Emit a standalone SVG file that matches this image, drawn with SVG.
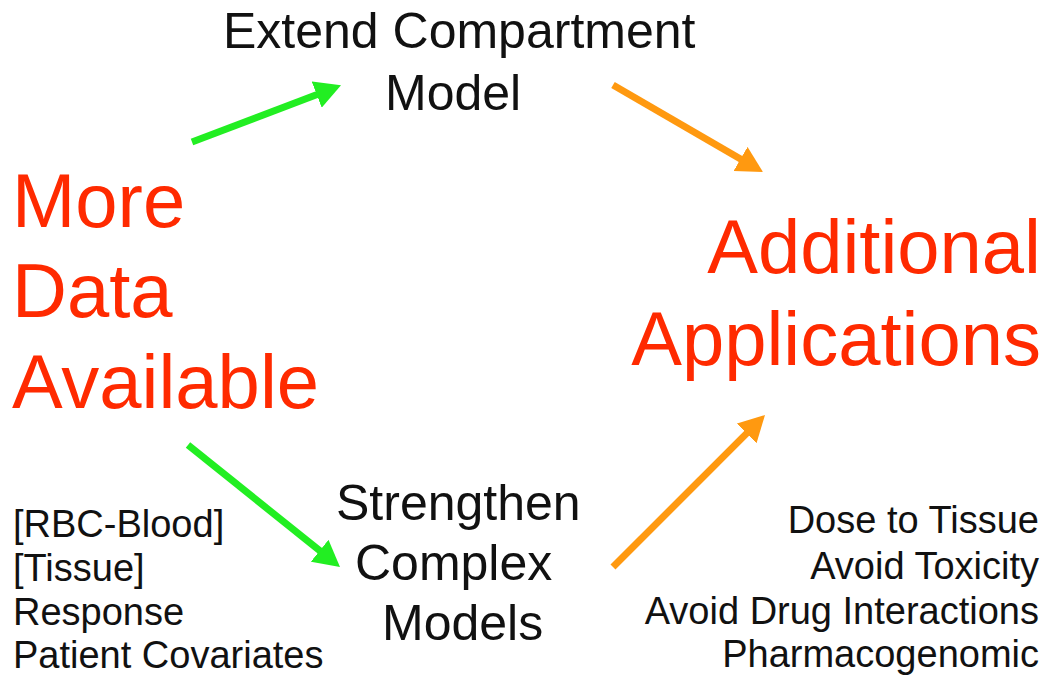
<svg xmlns="http://www.w3.org/2000/svg" width="1049" height="682" viewBox="0 0 1049 682">
<style>
text{font-family:"Liberation Sans",Arial,Helvetica,sans-serif}
.big{font-size:76px;fill:#ff2a00}
.mid{font-size:50px;fill:#111}
.small{font-size:38px;fill:#111}
.g{stroke:#22ee22;stroke-width:7;fill:none}
.o{stroke:#ff9910;stroke-width:7;fill:none}
</style>
<defs>
<marker id="hg" markerUnits="userSpaceOnUse" markerWidth="26" markerHeight="28" viewBox="0 0 26 28" refX="11" refY="14" orient="auto">
<path d="M0,0 L26,14 L0,28 z" fill="#22ee22"/>
</marker>
<marker id="ho" markerUnits="userSpaceOnUse" markerWidth="26" markerHeight="28" viewBox="0 0 26 28" refX="11" refY="14" orient="auto">
<path d="M0,0 L26,14 L0,28 z" fill="#ff9910"/>
</marker>
</defs>
<rect width="1049" height="682" fill="#fff"/>
<g id="connectors">
<line class="g" x1="192" y1="142" x2="327" y2="90.7" marker-end="url(#hg)"/>
<line class="o" x1="613" y1="85" x2="750" y2="164.5" marker-end="url(#ho)"/>
<line class="g" x1="188" y1="445" x2="328.3" y2="557.6" marker-end="url(#hg)"/>
<line class="o" x1="613" y1="567" x2="754.4" y2="425.6" marker-end="url(#ho)"/>
</g>
<g id="more-data">
<text class="big" x="12" y="227">More</text>
<text class="big" x="12" y="317">Data</text>
<text class="big" x="12" y="408">Available</text>
</g>
<g id="additional-applications">
<text class="big" x="1041" y="273" text-anchor="end">Additional</text>
<text class="big" x="1041" y="365" text-anchor="end">Applications</text>
</g>
<g id="extend-model">
<text class="mid" x="223" y="48">Extend Compartment</text>
<text class="mid" x="385" y="110">Model</text>
</g>
<g id="strengthen-models">
<text class="mid" x="336" y="520">Strengthen</text>
<text class="mid" x="355" y="580">Complex</text>
<text class="mid" x="382" y="640">Models</text>
</g>
<g id="data-list">
<text class="small" x="13" y="537">[RBC-Blood]</text>
<text class="small" x="13" y="581">[Tissue]</text>
<text class="small" x="13" y="625">Response</text>
<text class="small" x="13" y="668">Patient Covariates</text>
</g>
<g id="applications-list">
<text class="small" x="1039" y="533" text-anchor="end">Dose to Tissue</text>
<text class="small" x="1039" y="579" text-anchor="end">Avoid Toxicity</text>
<text class="small" x="1039" y="624" text-anchor="end">Avoid Drug Interactions</text>
<text class="small" x="1039" y="667" text-anchor="end">Pharmacogenomic</text>
</g>
</svg>
